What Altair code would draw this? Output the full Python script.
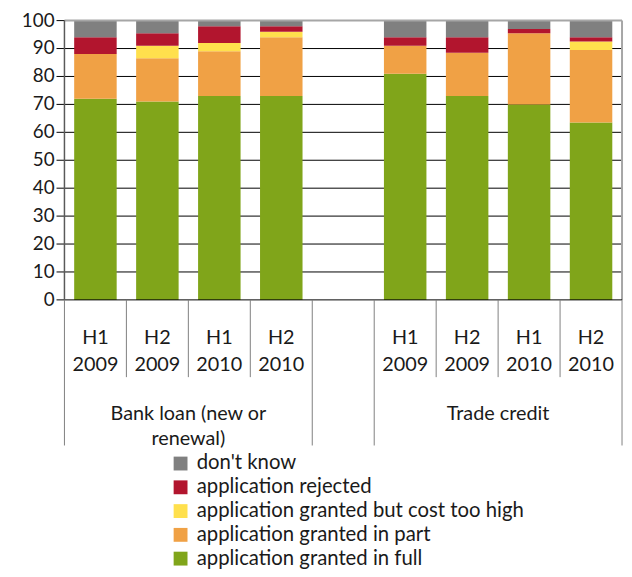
import altair as alt
import pandas as pd

periods_top = ["H1", "H2", "H1", "H2", "H1", "H2", "H1", "H2"]
periods_bottom = ["2009", "2009", "2010", "2010", "2009", "2009", "2010", "2010"]
groups = ["Bank loan (new or renewal)"] * 4 + ["Trade credit"] * 4
slots = [0, 1, 2, 3, 5, 6, 7, 8]

series = [
    "application granted in full",
    "application granted in part",
    "application granted but cost too high",
    "application rejected",
    "don't know",
]
granted_full = [72, 71, 73, 73, 81, 73, 70, 63.5]
granted_part = [16, 15.5, 16, 21, 10, 15.5, 25.5, 26]
cost_too_high = [0, 4.5, 3, 2, 0, 0, 0, 3]
rejected = [6, 4.5, 6, 2, 3, 5.5, 1.5, 1.5]
dont_know = [6, 4.5, 2, 2, 6, 6, 3, 6]

y_ticks = [0, 10, 20, 30, 40, 50, 60, 70, 80, 90, 100]
colors = ["#80A51A", "#F0A145", "#FFE04D", "#B2152E", "#808080"]

group_line1 = ["Bank loan (new or", "Trade credit"]
group_line2 = ["renewal)", ""]
group_centers = [2, 7]

values = [granted_full, granted_part, cost_too_high, rejected, dont_know]
rows = []
for si, (name, vals) in enumerate(zip(series, values)):
    for i in range(8):
        rows.append({"cat": i, "slot": slots[i], "series": name, "order": si, "value": vals[i]})
df = pd.DataFrame(rows)
df["xa"] = df["slot"] + 0.157
df["xb"] = df["slot"] + 0.843

W, H = 563, 282
xscale = alt.Scale(domain=[0, 9], range=[0, W], nice=False, zero=False)
yscale = alt.Scale(domain=[0, 100], nice=False)
FONT = "Lato"
FS = 20

legend_order = list(reversed(series))
legend_colors = list(reversed(colors))

tick_df = pd.DataFrame({"v": y_ticks, "lab": [str(t) for t in y_ticks]})
grid_df = pd.DataFrame({"v": y_ticks[1:-1]})

grid = alt.Chart(grid_df).mark_rule(color="#000000", strokeWidth=1).encode(
    y=alt.Y("v:Q", scale=yscale, axis=None)
)

bars = alt.Chart(df).transform_stack(
    stack="value", groupby=["cat"], as_=["y0", "y1"], sort=[alt.SortField("order", order="ascending")]
).mark_bar(strokeWidth=0).encode(
    x=alt.X("xa:Q", scale=xscale, axis=None),
    x2="xb:Q",
    y=alt.Y("y0:Q", scale=yscale, axis=None),
    y2="y1:Q",
    color=alt.Color("series:N", scale=alt.Scale(domain=legend_order, range=legend_colors),
                    legend=alt.Legend(title=None, orient="none", legendX=107, legendY=437,
                                      symbolType="square", symbolSize=196, symbolStrokeWidth=0,
                                      labelFont=FONT, labelFontSize=20.5, labelColor="#1a1a1a",
                                      labelOffset=6, rowPadding=3, padding=0, labelLimit=500)),
)

top_frame = alt.Chart(pd.DataFrame({"v": [100]})).mark_rule(color="#a6a6a6", strokeWidth=2).encode(
    y=alt.Y("v:Q", scale=yscale, axis=None), x=alt.value(0), x2=alt.value(W)
)
right_frame = alt.Chart(pd.DataFrame({"d": [9]})).mark_rule(color="#a6a6a6", strokeWidth=2).encode(
    x=alt.X("d:Q", scale=xscale, axis=None), y=alt.value(0), y2=alt.value(H)
)
baseline = alt.Chart(pd.DataFrame({"v": [0]})).mark_rule(color="#000000", strokeWidth=1).encode(
    y=alt.Y("v:Q", scale=yscale, axis=None), x=alt.value(0), x2=alt.value(W)
)
ticks = alt.Chart(tick_df).mark_rule(color="#000000", strokeWidth=1).encode(
    y=alt.Y("v:Q", scale=yscale, axis=None), x=alt.value(-8), x2=alt.value(0)
)
tick_labels = alt.Chart(tick_df).mark_text(font=FONT, fontSize=19, color="#1a1a1a",
                                           align="right", baseline="middle").encode(
    y=alt.Y("v:Q", scale=yscale, axis=None), x=alt.value(-10), text="lab:N"
)
y_domain = alt.Chart(pd.DataFrame({"d": [0]})).mark_rule(color="#595959", strokeWidth=1.5).encode(
    x=alt.X("d:Q", scale=xscale, axis=None), y=alt.value(0), y2=alt.value(H)
)

short_df = pd.DataFrame({"d": [1, 2, 3, 6, 7, 8]})
long_df = pd.DataFrame({"d": [0, 4, 5, 9]})
short_div = alt.Chart(short_df).mark_rule(color="#808080", strokeWidth=1).encode(
    x=alt.X("d:Q", scale=xscale, axis=None), y=alt.value(H), y2=alt.value(H + 78)
)
long_div = alt.Chart(long_df).mark_rule(color="#808080", strokeWidth=1).encode(
    x=alt.X("d:Q", scale=xscale, axis=None), y=alt.value(H), y2=alt.value(H + 147)
)

lab_df = pd.DataFrame({"c": [s + 0.5 for s in slots], "t": periods_top, "b": periods_bottom})
txt = dict(font=FONT, fontSize=FS, color="#1a1a1a", baseline="middle")
lab_top = alt.Chart(lab_df).mark_text(**txt).encode(
    x=alt.X("c:Q", scale=xscale, axis=None), y=alt.value(H + 39), text="t:N"
)
lab_bot = alt.Chart(lab_df).mark_text(**txt).encode(
    x=alt.X("c:Q", scale=xscale, axis=None), y=alt.value(H + 66), text="b:N"
)
grp_df = pd.DataFrame({"c": group_centers, "l1": group_line1, "l2": group_line2})
grp1 = alt.Chart(grp_df).mark_text(**txt).encode(
    x=alt.X("c:Q", scale=xscale, axis=None), y=alt.value(H + 115), text="l1:N"
)
grp2 = alt.Chart(grp_df).mark_text(**txt).encode(
    x=alt.X("c:Q", scale=xscale, axis=None), y=alt.value(H + 141), text="l2:N"
)

chart = alt.layer(
    grid, bars, top_frame, right_frame, baseline, ticks, tick_labels, y_domain,
    short_div, long_div, lab_top, lab_bot, grp1, grp2
).properties(
    width=W, height=H,
    autosize=alt.AutoSizeParams(type="none"),
    padding={"left": 57, "top": 10, "right": 2, "bottom": 269},
).configure_view(strokeWidth=0)

chart.save("out.html", embed_options={"renderer": "svg", "actions": False})
